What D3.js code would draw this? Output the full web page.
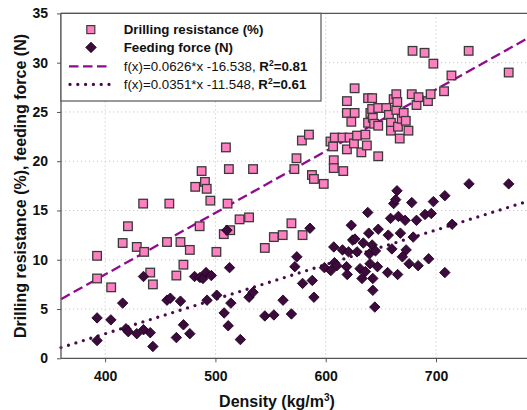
<!DOCTYPE html>
<html><head><meta charset="utf-8">
<script src="https://cdn.jsdelivr.net/npm/d3@7"></script>
<style>body{margin:0;background:#fff;}svg{display:block;font-family:"Liberation Sans",Arial,sans-serif;}</style>
</head><body>
<svg id="c" width="527" height="410"></svg>
<script>
// Drilling resistance (%) vs density
const drDensity = [392.7,392.7,405.5,415.9,420.7,428.7,435.4,434.5,440.9,443.3,456.1,458.2,464.6,468.3,471.0,476.8,481.7,485.7,487.5,490.5,492.1,495.4,500.9,509.5,507.6,511.0,512.2,513.4,521.9,530.5,534.1,544.8,553.0,561.0,568.9,571.6,573.5,579.0,578.4,584.8,587.5,589.3,598.2,604.3,606.7,607.3,607.3,608.2,615.9,615.2,619.2,619.2,619.2,621.6,623.2,625.6,626.2,626.2,628.4,632.3,636.0,637.3,638.4,638.4,640.5,642.1,642.1,642.7,643.9,647.6,647.6,647.6,654.9,657.3,659.1,659.1,661.6,664.0,664.0,664.9,665.5,667.1,668.9,670.7,672.6,675.0,678.0,678.7,682.3,684.1,689.6,692.7,695.1,697.6,707.3,714.0,729.6,765.9];
const drillingResistance = [10.4,8.1,7.2,11.7,13.4,11.3,10.8,15.7,8.7,7.5,11.8,15.7,8.4,11.8,9.5,11.0,17.4,13.4,19.0,17.9,17.2,16.0,10.8,21.4,12.6,15.7,19.2,13.0,14.1,14.3,19.2,11.2,12.3,12.5,13.7,19.2,20.3,12.5,22.1,22.7,18.6,18.2,17.7,22.0,21.5,20.1,19.3,22.4,19.0,22.4,26.1,24.9,21.2,22.4,24.0,21.8,24.9,27.4,22.6,20.9,22.7,21.6,26.4,23.9,24.9,26.4,25.3,24.4,23.8,20.5,23.6,25.4,25.4,24.7,23.9,23.1,26.3,26.8,25.2,26.0,23.5,22.3,24.3,24.9,24.1,23.1,26.8,31.2,25.7,26.5,31.0,26.1,26.8,29.9,27.1,28.7,31.2,29.0];
// Feeding force (N) vs density
const ffDensity = [392.7,392.7,405.2,415.9,418.9,421.0,428.7,434.8,434.8,440.9,443.3,456.1,459.1,464.6,468.3,471.0,476.8,481.1,486.0,488.7,491.5,492.4,496.3,501.2,507.9,510.4,511.6,512.8,514.0,522.6,530.5,534.1,544.8,553.0,561.3,568.9,572.0,573.8,579.0,585.7,587.8,589.3,598.8,604.6,607.3,607.9,610.1,615.2,618.9,619.5,620.7,623.2,624.4,626.5,628.4,631.1,632.9,634.1,636.0,638.1,639.0,639.6,640.2,642.1,642.7,642.7,644.5,645.1,646.9,647.6,656.1,656.7,658.8,660.0,661.6,663.4,664.6,665.2,665.9,667.7,669.5,672.0,672.9,675.6,678.0,679.3,682.3,683.8,690.0,693.3,695.7,697.6,708.0,708.0,714.6,729.9,765.9];
const feedingForce = [4.1,1.8,3.9,5.6,3.0,2.7,2.5,8.3,2.9,2.6,1.2,5.9,6.1,2.1,5.8,3.4,2.5,8.3,8.2,8.1,8.7,5.9,8.4,6.4,4.6,13.0,3.3,9.2,5.6,1.9,6.2,6.7,4.3,4.4,5.9,4.5,9.3,10.3,7.6,13.2,7.9,6.2,9.2,8.9,11.3,9.7,9.4,11.0,9.3,8.5,10.8,13.5,12.0,12.1,10.8,9.1,8.1,11.7,8.8,14.8,12.7,10.6,9.6,11.5,8.1,6.9,5.2,10.9,9.3,13.1,8.7,12.5,14.2,11.1,15.7,16.1,17.0,8.5,14.4,12.7,10.3,14.0,11.0,9.6,15.8,12.3,14.0,9.4,14.6,10.1,14.7,15.9,16.5,8.7,13.6,17.7,17.7];
// Fitted trend lines from legend: slope, intercept
const fitDR = [0.0626, -16.538];
const fitFF = [0.0351, -11.548];
const xTicks = [400, 500, 600, 700];
const yTicks = [0, 5, 10, 15, 20, 25, 30, 35];

const svg = d3.select("#c");
const L = 61, T = 13.4, B = 358.3;
const x = d3.scaleLinear().domain([360, 800]).range([L, L + 440 * 1.103]);
const y = d3.scaleLinear().domain([0, 35]).range([B, T]);
const xEnd = x(800);

// grid
const g = svg.append("g");
g.selectAll(".gx").data(xTicks).join("line")
  .attr("x1", d => x(d)).attr("x2", d => x(d)).attr("y1", T).attr("y2", B)
  .attr("stroke", "#c8c8c8").attr("stroke-width", 1).attr("stroke-dasharray", "1.2 2.8");
g.selectAll(".gy").data(yTicks.filter(d => d > 0 && d < 35)).join("line")
  .attr("x1", L).attr("x2", xEnd).attr("y1", d => y(d)).attr("y2", d => y(d))
  .attr("stroke", "#c8c8c8").attr("stroke-width", 1).attr("stroke-dasharray", "1.2 2.8");

// trend lines
const lineGen = fit => [[360, fit[0] * 360 + fit[1]], [800, fit[0] * 800 + fit[1]]];
svg.append("path").datum(lineGen(fitDR))
  .attr("d", d3.line().x(d => x(d[0])).y(d => y(d[1])))
  .attr("stroke", "#8f0a8f").attr("stroke-width", 2.3).attr("fill", "none")
  .attr("stroke-dasharray", "10 4.5");
svg.append("path").datum(lineGen(fitFF))
  .attr("d", d3.line().x(d => x(d[0])).y(d => y(d[1])))
  .attr("stroke", "#4a0a4a").attr("stroke-width", 3.3).attr("fill", "none")
  .attr("stroke-linecap", "round").attr("stroke-dasharray", "0 7.8");

// squares
const sq = 8.6;
svg.append("g").selectAll("rect").data(drDensity.map((d, i) => [d, drillingResistance[i]])).join("rect")
  .attr("x", d => x(d[0]) - sq / 2).attr("y", d => y(d[1]) - sq / 2)
  .attr("width", sq).attr("height", sq)
  .attr("fill", "#ff80c0").attr("stroke", "#3a3a3a").attr("stroke-width", 1.3);

// diamonds
const ds = 7.4;
svg.append("g").selectAll("rect").data(ffDensity.map((d, i) => [d, feedingForce[i]])).join("rect")
  .attr("x", -ds / 2).attr("y", -ds / 2).attr("width", ds).attr("height", ds)
  .attr("transform", d => `translate(${x(d[0])},${y(d[1])}) rotate(45)`)
  .attr("fill", "#3c0a3c").attr("stroke", "#1a001a").attr("stroke-width", 0.8);

// axes frame
svg.append("line").attr("x1", L).attr("x2", L).attr("y1", T).attr("y2", B).attr("stroke", "#555").attr("stroke-width", 1.3);
svg.append("line").attr("x1", L).attr("x2", xEnd).attr("y1", B).attr("y2", B).attr("stroke", "#555").attr("stroke-width", 1.3);
svg.append("line").attr("x1", L).attr("x2", xEnd).attr("y1", T).attr("y2", T).attr("stroke", "#555").attr("stroke-width", 1.3);

// axes
const yAxis = svg.append("g").attr("transform", `translate(${L},0)`)
  .call(d3.axisLeft(y).tickValues(yTicks).tickSize(4).tickPadding(9));
const xAxis = svg.append("g").attr("transform", `translate(0,${B})`)
  .call(d3.axisBottom(x).tickValues(xTicks).tickSize(4).tickPadding(9));
[yAxis, xAxis].forEach(a => {
  a.select(".domain").remove();
  a.selectAll(".tick line").attr("stroke", "#555");
  a.selectAll("text").attr("font-family", "Liberation Sans, Arial, sans-serif")
    .attr("font-size", 14).attr("font-weight", "bold").attr("fill", "#111");
});

// axis titles
const xt = svg.append("text").attr("x", 277).attr("y", 407).attr("text-anchor", "middle")
  .attr("font-size", 16).attr("font-weight", "bold").attr("fill", "#111");
xt.append("tspan").text("Density (kg/m");
xt.append("tspan").attr("font-size", 10).attr("dy", -6).text("3");
xt.append("tspan").attr("dy", 6).text(")");
svg.append("text").attr("transform", "translate(26,186) rotate(-90)").attr("text-anchor", "middle")
  .attr("font-size", 16).attr("font-weight", "bold").attr("fill", "#111")
  .text("Drilling resistance (%), feeding force (N)");

// legend
const lg = svg.append("g");
lg.append("rect").attr("x", L).attr("y", T).attr("width", 321 - L).attr("height", 101 - T)
  .attr("fill", "#fff").attr("stroke", "#555").attr("stroke-width", 1.2);
lg.append("rect").attr("x", 90.8 - 4).attr("y", 29.6 - 4).attr("width", 8).attr("height", 8)
  .attr("fill", "#ff80c0").attr("stroke", "#3a3a3a").attr("stroke-width", 1.2);
lg.append("rect").attr("x", -ds / 2).attr("y", -ds / 2).attr("width", ds).attr("height", ds)
  .attr("transform", "translate(91,47.4) rotate(45)")
  .attr("fill", "#3c0a3c").attr("stroke", "#1a001a").attr("stroke-width", 0.8);
lg.append("line").attr("x1", 69).attr("x2", 110).attr("y1", 66.3).attr("y2", 66.3)
  .attr("stroke", "#8f0a8f").attr("stroke-width", 2.3).attr("stroke-dasharray", "9.5 4.5");
lg.append("line").attr("x1", 70).attr("x2", 111).attr("y1", 84.4).attr("y2", 84.4)
  .attr("stroke", "#4a0a4a").attr("stroke-width", 3.3).attr("stroke-linecap", "round").attr("stroke-dasharray", "0 7.8");
const tx = 123.7, fs = 13.3;
lg.append("text").attr("x", tx).attr("y", 34.4).attr("font-size", fs).attr("font-weight", "bold").attr("fill", "#111").text("Drilling resistance (%)");
lg.append("text").attr("x", tx).attr("y", 52.2).attr("font-size", fs).attr("font-weight", "bold").attr("fill", "#111").text("Feeding force (N)");
function formulaLegend(fit, r2, yy) {
  const t = lg.append("text").attr("x", tx).attr("y", yy).attr("font-size", fs).attr("fill", "#111");
  t.append("tspan").text(`f(x)=${fit[0]}*x ${fit[1]}, `);
  t.append("tspan").attr("font-weight", "bold").text("R");
  t.append("tspan").attr("font-weight", "bold").attr("font-size", 8.5).attr("dy", -5).text("2");
  t.append("tspan").attr("font-weight", "bold").attr("dy", 5).text(`=${r2}`);
}
formulaLegend(fitDR, "0.81", 71.1);
formulaLegend(fitFF, "0.61", 89.3);
</script>
</body></html>
